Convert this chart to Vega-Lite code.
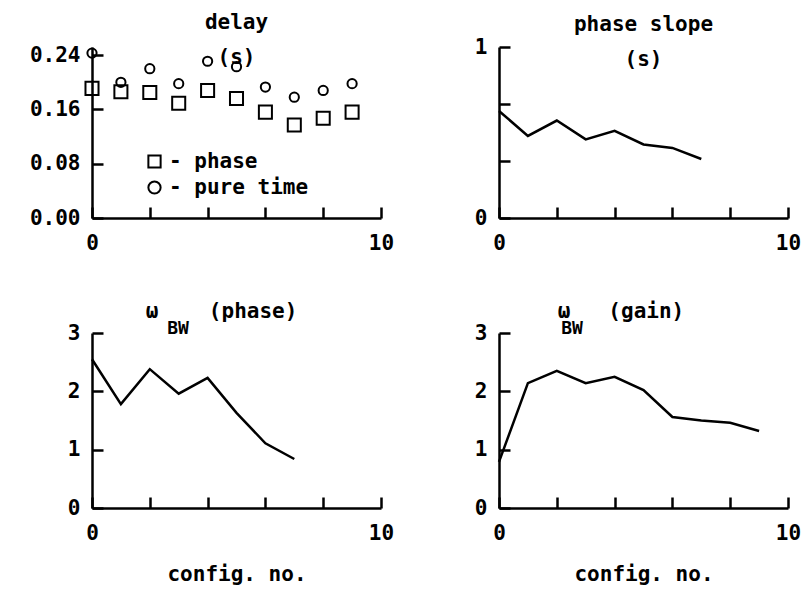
{
  "$schema": "https://vega.github.io/schema/vega-lite/v6.json",
  "background": "white",
  "padding": {"left": 29, "top": 12, "right": 5, "bottom": 5},
  "datasets": {
    "delay": [
      {"config": 0, "series": "phase", "value": 0.191},
      {"config": 1, "series": "phase", "value": 0.186},
      {"config": 2, "series": "phase", "value": 0.185},
      {"config": 3, "series": "phase", "value": 0.169},
      {"config": 4, "series": "phase", "value": 0.188},
      {"config": 5, "series": "phase", "value": 0.176},
      {"config": 6, "series": "phase", "value": 0.156},
      {"config": 7, "series": "phase", "value": 0.137},
      {"config": 8, "series": "phase", "value": 0.147},
      {"config": 9, "series": "phase", "value": 0.156},
      {"config": 0, "series": "pure time", "value": 0.243},
      {"config": 1, "series": "pure time", "value": 0.200},
      {"config": 2, "series": "pure time", "value": 0.220},
      {"config": 3, "series": "pure time", "value": 0.198},
      {"config": 4, "series": "pure time", "value": 0.231},
      {"config": 5, "series": "pure time", "value": 0.223},
      {"config": 6, "series": "pure time", "value": 0.193},
      {"config": 7, "series": "pure time", "value": 0.178},
      {"config": 8, "series": "pure time", "value": 0.188},
      {"config": 9, "series": "pure time", "value": 0.198}
    ],
    "slope": [
      {"config": 0, "value": 0.626},
      {"config": 1, "value": 0.48},
      {"config": 2, "value": 0.57},
      {"config": 3, "value": 0.46},
      {"config": 4, "value": 0.51},
      {"config": 5, "value": 0.43},
      {"config": 6, "value": 0.41},
      {"config": 7, "value": 0.345}
    ],
    "bwphase": [
      {"config": 0, "value": 2.55},
      {"config": 1, "value": 1.78},
      {"config": 2, "value": 2.38},
      {"config": 3, "value": 1.96},
      {"config": 4, "value": 2.23},
      {"config": 5, "value": 1.63},
      {"config": 6, "value": 1.11},
      {"config": 7, "value": 0.84}
    ],
    "bwgain": [
      {"config": 0, "value": 0.79},
      {"config": 1, "value": 2.14},
      {"config": 2, "value": 2.35},
      {"config": 3, "value": 2.14},
      {"config": 4, "value": 2.25},
      {"config": 5, "value": 2.02},
      {"config": 6, "value": 1.56},
      {"config": 7, "value": 1.5},
      {"config": 8, "value": 1.46},
      {"config": 9, "value": 1.32}
    ]
  },
  "config": {
    "view": {"stroke": null},
    "font": "DejaVu Sans Mono",
    "axis": {
      "grid": false,
      "domainColor": "black",
      "domainWidth": 2.5,
      "tickColor": "black",
      "tickWidth": 2.5,
      "tickSize": -11,
      "labelFont": "DejaVu Sans Mono",
      "labelFontWeight": "bold",
      "labelFontSize": 21,
      "labelColor": "black",
      "labelFlush": false,
      "labelOverlap": false,
      "titleFont": "DejaVu Sans Mono",
      "titleFontWeight": "bold",
      "titleFontSize": 21,
      "titleColor": "black"
    },
    "axisX": {"labelPadding": 25},
    "axisY": {"labelPadding": 23},
    "title": {
      "font": "DejaVu Sans Mono",
      "fontWeight": "bold",
      "fontSize": 21,
      "color": "black",
      "anchor": "middle",
      "subtitleFont": "DejaVu Sans Mono",
      "subtitleFontWeight": "bold",
      "subtitleFontSize": 18,
      "subtitleColor": "black"
    },
    "legend": {
      "labelFont": "DejaVu Sans Mono",
      "labelFontWeight": "bold",
      "labelFontSize": 21,
      "labelColor": "black"
    }
  },
  "columns": 2,
  "spacing": {"row": 115, "column": 118},
  "bounds": "flush",
  "concat": [
    {
      "width": 289,
      "height": 171,
      "title": {"text": ["delay", "(s)"], "lineHeight": 35, "offset": -24},
      "data": {"name": "delay"},
      "encoding": {
        "x": {"field": "config", "type": "quantitative", "scale": {"domain": [0, 10], "nice": false},
              "axis": {"values": [0, 2, 4, 6, 8, 10], "labelExpr": "datum.value == 0 || datum.value == 10 ? datum.label : ''", "title": null}},
        "y": {"field": "value", "type": "quantitative", "scale": {"domain": [0, 0.252], "nice": false},
              "axis": {"values": [0, 0.08, 0.16, 0.24], "format": ".2f", "title": null}},
        "shape": {"field": "series", "type": "nominal",
                  "scale": {"domain": ["phase", "pure time"], "range": ["square", "circle"]},
                  "legend": {"title": null, "orient": "none", "legendX": 52, "legendY": 104, "padding": 0,
                             "symbolSize": 150, "symbolStrokeColor": "black", "symbolFillColor": "transparent",
                             "symbolStrokeWidth": 2, "labelExpr": "'- ' + datum.label", "rowPadding": 4, "labelOffset": 4}}
      },
      "layer": [
        {
          "transform": [{"filter": "datum.series == 'phase'"}],
          "mark": {"type": "point", "filled": false, "stroke": "black", "strokeWidth": 2, "opacity": 1, "size": 170}
        },
        {
          "transform": [{"filter": "datum.series == 'pure time'"}],
          "mark": {"type": "point", "filled": false, "stroke": "black", "strokeWidth": 2, "opacity": 1, "size": 85}
        }
      ]
    },
    {
      "width": 289,
      "height": 171,
      "title": {"text": ["phase slope", "(s)"], "lineHeight": 35, "offset": -34},
      "data": {"name": "slope"},
      "mark": {"type": "line", "color": "black", "strokeWidth": 2.5},
      "encoding": {
        "x": {"field": "config", "type": "quantitative", "scale": {"domain": [0, 10], "nice": false},
              "axis": {"values": [0, 2, 4, 6, 8, 10], "labelExpr": "datum.value == 0 || datum.value == 10 ? datum.label : ''", "title": null}},
        "y": {"field": "value", "type": "quantitative", "scale": {"domain": [0, 1], "nice": false},
              "axis": {"values": [0, 0.3333, 0.6667, 1], "labelExpr": "datum.value == 0 ? '0' : datum.value == 1 ? '1' : ''", "title": null}}
      }
    },
    {
      "width": 289,
      "height": 175,
      "title": {"text": "ω\u00a0\u00a0\u00a0\u00a0(phase)\u2800\u2800", "subtitle": "BW\u2800\u2800\u2800\u2800\u2800\u2800\u2800\u2800\u2800", "subtitlePadding": -2, "offset": -16},
      "data": {"name": "bwphase"},
      "mark": {"type": "line", "color": "black", "strokeWidth": 2.5},
      "encoding": {
        "x": {"field": "config", "type": "quantitative", "scale": {"domain": [0, 10], "nice": false},
              "axis": {"values": [0, 2, 4, 6, 8, 10], "labelExpr": "datum.value == 0 || datum.value == 10 ? datum.label : ''", "title": "config. no.", "titlePadding": 20}},
        "y": {"field": "value", "type": "quantitative", "scale": {"domain": [0, 3], "nice": false},
              "axis": {"values": [0, 1, 2, 3], "format": "d", "title": null}}
      }
    },
    {
      "width": 289,
      "height": 175,
      "title": {"text": "ω\u00a0\u00a0\u00a0(gain)\u2800\u2800\u2800", "subtitle": "BW\u2800\u2800\u2800\u2800\u2800\u2800\u2800\u2800\u2800\u2800\u2800", "subtitlePadding": -2, "offset": -16},
      "data": {"name": "bwgain"},
      "mark": {"type": "line", "color": "black", "strokeWidth": 2.5},
      "encoding": {
        "x": {"field": "config", "type": "quantitative", "scale": {"domain": [0, 10], "nice": false},
              "axis": {"values": [0, 2, 4, 6, 8, 10], "labelExpr": "datum.value == 0 || datum.value == 10 ? datum.label : ''", "title": "config. no.", "titlePadding": 20}},
        "y": {"field": "value", "type": "quantitative", "scale": {"domain": [0, 3], "nice": false},
              "axis": {"values": [0, 1, 2, 3], "format": "d", "title": null}}
      }
    }
  ]
}
